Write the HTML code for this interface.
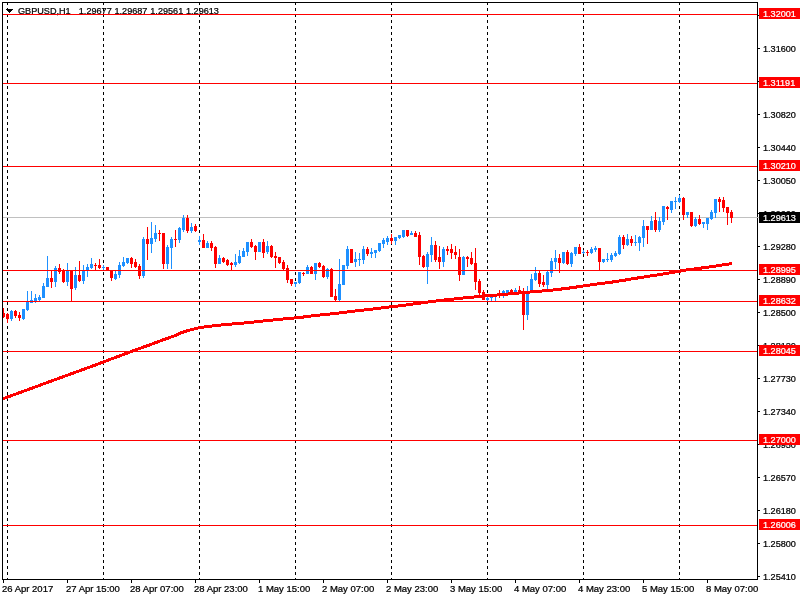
<!DOCTYPE html>
<html><head><meta charset="utf-8"><title>GBPUSD,H1</title>
<style>html,body{margin:0;padding:0;background:#fff;}body{width:800px;height:600px;overflow:hidden;}svg{display:block;}text{font-family:"Liberation Sans",sans-serif;font-size:9.7px;}</style></head><body>
<svg width="800" height="600" viewBox="0 0 800 600">
<rect x="0" y="0" width="800" height="600" fill="#ffffff"/>
<g shape-rendering="crispEdges">
<line x1="7.5" y1="2" x2="7.5" y2="579" stroke="#000" stroke-width="1" stroke-dasharray="3 3"/>
<line x1="103.5" y1="2" x2="103.5" y2="579" stroke="#000" stroke-width="1" stroke-dasharray="3 3"/>
<line x1="199.5" y1="2" x2="199.5" y2="579" stroke="#000" stroke-width="1" stroke-dasharray="3 3"/>
<line x1="295.5" y1="2" x2="295.5" y2="579" stroke="#000" stroke-width="1" stroke-dasharray="3 3"/>
<line x1="391.5" y1="2" x2="391.5" y2="579" stroke="#000" stroke-width="1" stroke-dasharray="3 3"/>
<line x1="487.5" y1="2" x2="487.5" y2="579" stroke="#000" stroke-width="1" stroke-dasharray="3 3"/>
<line x1="583.5" y1="2" x2="583.5" y2="579" stroke="#000" stroke-width="1" stroke-dasharray="3 3"/>
<line x1="679.5" y1="2" x2="679.5" y2="579" stroke="#000" stroke-width="1" stroke-dasharray="3 3"/>
<rect x="3" y="217" width="754" height="1" fill="#c0c0c0"/>
<rect x="3" y="308" width="1" height="10" fill="#ff0000"/><rect x="2" y="313" width="3" height="4" fill="#ff0000"/>
<rect x="7" y="313" width="1" height="10" fill="#ff0000"/><rect x="6" y="314" width="3" height="5" fill="#ff0000"/>
<rect x="11" y="310" width="1" height="11" fill="#1e90ff"/><rect x="10" y="311" width="3" height="8" fill="#1e90ff"/>
<rect x="15" y="310" width="1" height="8" fill="#ff0000"/><rect x="14" y="311" width="3" height="5" fill="#ff0000"/>
<rect x="19" y="312" width="1" height="9" fill="#ff0000"/><rect x="18" y="315" width="3" height="3" fill="#ff0000"/>
<rect x="23" y="309" width="1" height="11" fill="#1e90ff"/><rect x="22" y="309" width="3" height="10" fill="#1e90ff"/>
<rect x="27" y="291" width="1" height="20" fill="#1e90ff"/><rect x="26" y="302" width="3" height="8" fill="#1e90ff"/>
<rect x="31" y="291" width="1" height="12" fill="#1e90ff"/><rect x="30" y="300" width="3" height="3" fill="#1e90ff"/>
<rect x="35" y="294" width="1" height="9" fill="#1e90ff"/><rect x="34" y="298" width="3" height="4" fill="#1e90ff"/>
<rect x="39" y="295" width="1" height="6" fill="#1e90ff"/><rect x="38" y="297" width="3" height="3" fill="#1e90ff"/>
<rect x="43" y="283" width="1" height="15" fill="#1e90ff"/><rect x="42" y="286" width="3" height="12" fill="#1e90ff"/>
<rect x="47" y="256" width="1" height="31" fill="#1e90ff"/><rect x="46" y="278" width="3" height="9" fill="#1e90ff"/>
<rect x="51" y="270" width="1" height="18" fill="#ff0000"/><rect x="50" y="278" width="3" height="4" fill="#ff0000"/>
<rect x="55" y="266" width="1" height="21" fill="#1e90ff"/><rect x="54" y="268" width="3" height="14" fill="#1e90ff"/>
<rect x="59" y="264" width="1" height="10" fill="#ff0000"/><rect x="58" y="268" width="3" height="4" fill="#ff0000"/>
<rect x="63" y="269" width="1" height="14" fill="#ff0000"/><rect x="62" y="270" width="3" height="12" fill="#ff0000"/>
<rect x="67" y="263" width="1" height="23" fill="#1e90ff"/><rect x="66" y="271" width="3" height="11" fill="#1e90ff"/>
<rect x="71" y="271" width="1" height="31" fill="#ff0000"/><rect x="70" y="271" width="3" height="18" fill="#ff0000"/>
<rect x="75" y="267" width="1" height="23" fill="#1e90ff"/><rect x="74" y="275" width="3" height="13" fill="#1e90ff"/>
<rect x="79" y="261" width="1" height="21" fill="#ff0000"/><rect x="78" y="275" width="3" height="6" fill="#ff0000"/>
<rect x="83" y="265" width="1" height="19" fill="#1e90ff"/><rect x="82" y="270" width="3" height="11" fill="#1e90ff"/>
<rect x="87" y="264" width="1" height="13" fill="#1e90ff"/><rect x="86" y="267" width="3" height="4" fill="#1e90ff"/>
<rect x="91" y="258" width="1" height="11" fill="#1e90ff"/><rect x="90" y="264" width="3" height="4" fill="#1e90ff"/>
<rect x="95" y="263" width="1" height="8" fill="#ff0000"/><rect x="94" y="265" width="3" height="1" fill="#ff0000"/>
<rect x="99" y="259" width="1" height="10" fill="#ff0000"/><rect x="98" y="265" width="3" height="3" fill="#ff0000"/>
<rect x="103" y="265" width="1" height="5" fill="#1e90ff"/><rect x="102" y="267" width="3" height="1" fill="#1e90ff"/>
<rect x="107" y="267" width="1" height="4" fill="#ff0000"/><rect x="106" y="267" width="3" height="4" fill="#ff0000"/>
<rect x="111" y="270" width="1" height="11" fill="#ff0000"/><rect x="110" y="271" width="3" height="7" fill="#ff0000"/>
<rect x="115" y="271" width="1" height="9" fill="#1e90ff"/><rect x="114" y="274" width="3" height="5" fill="#1e90ff"/>
<rect x="119" y="262" width="1" height="16" fill="#1e90ff"/><rect x="118" y="265" width="3" height="10" fill="#1e90ff"/>
<rect x="123" y="257" width="1" height="10" fill="#1e90ff"/><rect x="122" y="262" width="3" height="4" fill="#1e90ff"/>
<rect x="127" y="258" width="1" height="6" fill="#1e90ff"/><rect x="126" y="258" width="3" height="5" fill="#1e90ff"/>
<rect x="131" y="257" width="1" height="11" fill="#ff0000"/><rect x="130" y="258" width="3" height="6" fill="#ff0000"/>
<rect x="135" y="259" width="1" height="9" fill="#ff0000"/><rect x="134" y="262" width="3" height="5" fill="#ff0000"/>
<rect x="139" y="264" width="1" height="15" fill="#ff0000"/><rect x="138" y="266" width="3" height="10" fill="#ff0000"/>
<rect x="143" y="237" width="1" height="41" fill="#1e90ff"/><rect x="142" y="239" width="3" height="37" fill="#1e90ff"/>
<rect x="147" y="227" width="1" height="33" fill="#ff0000"/><rect x="146" y="239" width="3" height="5" fill="#ff0000"/>
<rect x="151" y="222" width="1" height="31" fill="#1e90ff"/><rect x="150" y="238" width="3" height="6" fill="#1e90ff"/>
<rect x="155" y="225" width="1" height="17" fill="#1e90ff"/><rect x="154" y="233" width="3" height="6" fill="#1e90ff"/>
<rect x="159" y="230" width="1" height="11" fill="#ff0000"/><rect x="158" y="233" width="3" height="1" fill="#ff0000"/>
<rect x="163" y="233" width="1" height="36" fill="#ff0000"/><rect x="162" y="233" width="3" height="31" fill="#ff0000"/>
<rect x="167" y="245" width="1" height="24" fill="#1e90ff"/><rect x="166" y="247" width="3" height="17" fill="#1e90ff"/>
<rect x="171" y="237" width="1" height="32" fill="#1e90ff"/><rect x="170" y="239" width="3" height="9" fill="#1e90ff"/>
<rect x="175" y="230" width="1" height="17" fill="#ff0000"/><rect x="174" y="239" width="3" height="1" fill="#ff0000"/>
<rect x="179" y="227" width="1" height="16" fill="#1e90ff"/><rect x="178" y="228" width="3" height="12" fill="#1e90ff"/>
<rect x="183" y="215" width="1" height="17" fill="#1e90ff"/><rect x="182" y="218" width="3" height="12" fill="#1e90ff"/>
<rect x="187" y="215" width="1" height="18" fill="#ff0000"/><rect x="186" y="218" width="3" height="13" fill="#ff0000"/>
<rect x="191" y="223" width="1" height="10" fill="#1e90ff"/><rect x="190" y="227" width="3" height="4" fill="#1e90ff"/>
<rect x="195" y="224" width="1" height="8" fill="#ff0000"/><rect x="194" y="226" width="3" height="5" fill="#ff0000"/>
<rect x="199" y="236" width="1" height="9" fill="#1e90ff"/><rect x="198" y="240" width="3" height="2" fill="#1e90ff"/>
<rect x="203" y="234" width="1" height="14" fill="#ff0000"/><rect x="202" y="240" width="3" height="8" fill="#ff0000"/>
<rect x="207" y="241" width="1" height="7" fill="#1e90ff"/><rect x="206" y="243" width="3" height="5" fill="#1e90ff"/>
<rect x="211" y="241" width="1" height="10" fill="#ff0000"/><rect x="210" y="243" width="3" height="5" fill="#ff0000"/>
<rect x="215" y="246" width="1" height="22" fill="#ff0000"/><rect x="214" y="247" width="3" height="17" fill="#ff0000"/>
<rect x="219" y="255" width="1" height="9" fill="#1e90ff"/><rect x="218" y="258" width="3" height="6" fill="#1e90ff"/>
<rect x="223" y="257" width="1" height="6" fill="#ff0000"/><rect x="222" y="258" width="3" height="4" fill="#ff0000"/>
<rect x="227" y="259" width="1" height="7" fill="#ff0000"/><rect x="226" y="260" width="3" height="5" fill="#ff0000"/>
<rect x="231" y="262" width="1" height="9" fill="#ff0000"/><rect x="230" y="263" width="3" height="2" fill="#ff0000"/>
<rect x="235" y="254" width="1" height="13" fill="#1e90ff"/><rect x="234" y="262" width="3" height="3" fill="#1e90ff"/>
<rect x="239" y="250" width="1" height="14" fill="#1e90ff"/><rect x="238" y="256" width="3" height="7" fill="#1e90ff"/>
<rect x="243" y="248" width="1" height="9" fill="#1e90ff"/><rect x="242" y="251" width="3" height="6" fill="#1e90ff"/>
<rect x="247" y="242" width="1" height="14" fill="#1e90ff"/><rect x="246" y="242" width="3" height="10" fill="#1e90ff"/>
<rect x="251" y="239" width="1" height="9" fill="#ff0000"/><rect x="250" y="242" width="3" height="5" fill="#ff0000"/>
<rect x="255" y="245" width="1" height="15" fill="#ff0000"/><rect x="254" y="246" width="3" height="6" fill="#ff0000"/>
<rect x="259" y="242" width="1" height="10" fill="#1e90ff"/><rect x="258" y="242" width="3" height="10" fill="#1e90ff"/>
<rect x="263" y="239" width="1" height="19" fill="#ff0000"/><rect x="262" y="242" width="3" height="11" fill="#ff0000"/>
<rect x="267" y="241" width="1" height="13" fill="#1e90ff"/><rect x="266" y="246" width="3" height="6" fill="#1e90ff"/>
<rect x="271" y="245" width="1" height="13" fill="#ff0000"/><rect x="270" y="246" width="3" height="11" fill="#ff0000"/>
<rect x="275" y="252" width="1" height="16" fill="#ff0000"/><rect x="274" y="256" width="3" height="2" fill="#ff0000"/>
<rect x="279" y="257" width="1" height="7" fill="#ff0000"/><rect x="278" y="257" width="3" height="6" fill="#ff0000"/>
<rect x="283" y="260" width="1" height="11" fill="#ff0000"/><rect x="282" y="262" width="3" height="7" fill="#ff0000"/>
<rect x="287" y="265" width="1" height="18" fill="#ff0000"/><rect x="286" y="268" width="3" height="12" fill="#ff0000"/>
<rect x="291" y="279" width="1" height="7" fill="#ff0000"/><rect x="290" y="279" width="3" height="5" fill="#ff0000"/>
<rect x="295" y="282" width="1" height="5" fill="#1e90ff"/><rect x="294" y="282" width="3" height="2" fill="#1e90ff"/>
<rect x="299" y="272" width="1" height="12" fill="#1e90ff"/><rect x="298" y="272" width="3" height="11" fill="#1e90ff"/>
<rect x="303" y="272" width="1" height="4" fill="#ff0000"/><rect x="302" y="273" width="3" height="1" fill="#ff0000"/>
<rect x="307" y="265" width="1" height="9" fill="#1e90ff"/><rect x="306" y="267" width="3" height="7" fill="#1e90ff"/>
<rect x="311" y="266" width="1" height="8" fill="#ff0000"/><rect x="310" y="267" width="3" height="7" fill="#ff0000"/>
<rect x="315" y="263" width="1" height="17" fill="#1e90ff"/><rect x="314" y="263" width="3" height="11" fill="#1e90ff"/>
<rect x="319" y="262" width="1" height="6" fill="#ff0000"/><rect x="318" y="263" width="3" height="4" fill="#ff0000"/>
<rect x="323" y="265" width="1" height="13" fill="#ff0000"/><rect x="322" y="266" width="3" height="11" fill="#ff0000"/>
<rect x="327" y="268" width="1" height="11" fill="#1e90ff"/><rect x="326" y="269" width="3" height="8" fill="#1e90ff"/>
<rect x="331" y="268" width="1" height="29" fill="#ff0000"/><rect x="330" y="269" width="3" height="28" fill="#ff0000"/>
<rect x="335" y="289" width="1" height="13" fill="#ff0000"/><rect x="334" y="296" width="3" height="4" fill="#ff0000"/>
<rect x="339" y="259" width="1" height="42" fill="#1e90ff"/><rect x="338" y="284" width="3" height="16" fill="#1e90ff"/>
<rect x="343" y="265" width="1" height="20" fill="#1e90ff"/><rect x="342" y="265" width="3" height="20" fill="#1e90ff"/>
<rect x="347" y="246" width="1" height="23" fill="#1e90ff"/><rect x="346" y="249" width="3" height="17" fill="#1e90ff"/>
<rect x="351" y="249" width="1" height="14" fill="#ff0000"/><rect x="350" y="249" width="3" height="14" fill="#ff0000"/>
<rect x="355" y="252" width="1" height="15" fill="#1e90ff"/><rect x="354" y="259" width="3" height="3" fill="#1e90ff"/>
<rect x="359" y="253" width="1" height="13" fill="#1e90ff"/><rect x="358" y="259" width="3" height="1" fill="#1e90ff"/>
<rect x="363" y="246" width="1" height="18" fill="#1e90ff"/><rect x="362" y="249" width="3" height="11" fill="#1e90ff"/>
<rect x="367" y="247" width="1" height="9" fill="#ff0000"/><rect x="366" y="249" width="3" height="5" fill="#ff0000"/>
<rect x="371" y="248" width="1" height="10" fill="#1e90ff"/><rect x="370" y="252" width="3" height="2" fill="#1e90ff"/>
<rect x="375" y="250" width="1" height="8" fill="#1e90ff"/><rect x="374" y="250" width="3" height="3" fill="#1e90ff"/>
<rect x="379" y="243" width="1" height="9" fill="#1e90ff"/><rect x="378" y="243" width="3" height="8" fill="#1e90ff"/>
<rect x="383" y="238" width="1" height="10" fill="#1e90ff"/><rect x="382" y="240" width="3" height="4" fill="#1e90ff"/>
<rect x="387" y="236" width="1" height="9" fill="#1e90ff"/><rect x="386" y="238" width="3" height="4" fill="#1e90ff"/>
<rect x="391" y="234" width="1" height="10" fill="#ff0000"/><rect x="390" y="238" width="3" height="3" fill="#ff0000"/>
<rect x="395" y="237" width="1" height="8" fill="#1e90ff"/><rect x="394" y="237" width="3" height="4" fill="#1e90ff"/>
<rect x="399" y="235" width="1" height="4" fill="#1e90ff"/><rect x="398" y="235" width="3" height="3" fill="#1e90ff"/>
<rect x="403" y="230" width="1" height="8" fill="#1e90ff"/><rect x="402" y="230" width="3" height="7" fill="#1e90ff"/>
<rect x="407" y="230" width="1" height="7" fill="#ff0000"/><rect x="406" y="230" width="3" height="6" fill="#ff0000"/>
<rect x="411" y="231" width="1" height="4" fill="#1e90ff"/><rect x="410" y="233" width="3" height="2" fill="#1e90ff"/>
<rect x="415" y="231" width="1" height="6" fill="#ff0000"/><rect x="414" y="233" width="3" height="4" fill="#ff0000"/>
<rect x="419" y="232" width="1" height="33" fill="#ff0000"/><rect x="418" y="235" width="3" height="22" fill="#ff0000"/>
<rect x="423" y="255" width="1" height="13" fill="#ff0000"/><rect x="422" y="256" width="3" height="11" fill="#ff0000"/>
<rect x="427" y="252" width="1" height="32" fill="#1e90ff"/><rect x="426" y="254" width="3" height="13" fill="#1e90ff"/>
<rect x="431" y="237" width="1" height="25" fill="#1e90ff"/><rect x="430" y="245" width="3" height="10" fill="#1e90ff"/>
<rect x="435" y="241" width="1" height="21" fill="#ff0000"/><rect x="434" y="245" width="3" height="15" fill="#ff0000"/>
<rect x="439" y="246" width="1" height="23" fill="#ff0000"/><rect x="438" y="257" width="3" height="5" fill="#ff0000"/>
<rect x="443" y="247" width="1" height="20" fill="#1e90ff"/><rect x="442" y="249" width="3" height="13" fill="#1e90ff"/>
<rect x="447" y="246" width="1" height="9" fill="#ff0000"/><rect x="446" y="249" width="3" height="2" fill="#ff0000"/>
<rect x="451" y="244" width="1" height="15" fill="#ff0000"/><rect x="450" y="249" width="3" height="4" fill="#ff0000"/>
<rect x="455" y="246" width="1" height="13" fill="#ff0000"/><rect x="454" y="252" width="3" height="3" fill="#ff0000"/>
<rect x="459" y="249" width="1" height="32" fill="#ff0000"/><rect x="458" y="257" width="3" height="18" fill="#ff0000"/>
<rect x="463" y="256" width="1" height="19" fill="#1e90ff"/><rect x="462" y="257" width="3" height="18" fill="#1e90ff"/>
<rect x="467" y="256" width="1" height="11" fill="#ff0000"/><rect x="466" y="257" width="3" height="2" fill="#ff0000"/>
<rect x="471" y="252" width="1" height="13" fill="#ff0000"/><rect x="470" y="258" width="3" height="6" fill="#ff0000"/>
<rect x="475" y="248" width="1" height="42" fill="#ff0000"/><rect x="474" y="263" width="3" height="19" fill="#ff0000"/>
<rect x="479" y="279" width="1" height="17" fill="#ff0000"/><rect x="478" y="281" width="3" height="12" fill="#ff0000"/>
<rect x="483" y="290" width="1" height="10" fill="#ff0000"/><rect x="482" y="292" width="3" height="8" fill="#ff0000"/>
<rect x="487" y="296" width="1" height="5" fill="#1e90ff"/><rect x="486" y="298" width="3" height="2" fill="#1e90ff"/>
<rect x="491" y="296" width="1" height="5" fill="#1e90ff"/><rect x="490" y="297" width="3" height="1" fill="#1e90ff"/>
<rect x="495" y="295" width="1" height="6" fill="#1e90ff"/><rect x="494" y="296" width="3" height="1" fill="#1e90ff"/>
<rect x="499" y="290" width="1" height="8" fill="#ff0000"/><rect x="498" y="293" width="3" height="2" fill="#ff0000"/>
<rect x="503" y="290" width="1" height="8" fill="#1e90ff"/><rect x="502" y="291" width="3" height="4" fill="#1e90ff"/>
<rect x="507" y="290" width="1" height="5" fill="#1e90ff"/><rect x="506" y="290" width="3" height="4" fill="#1e90ff"/>
<rect x="511" y="289" width="1" height="5" fill="#ff0000"/><rect x="510" y="290" width="3" height="4" fill="#ff0000"/>
<rect x="515" y="288" width="1" height="6" fill="#1e90ff"/><rect x="514" y="290" width="3" height="3" fill="#1e90ff"/>
<rect x="519" y="286" width="1" height="8" fill="#ff0000"/><rect x="518" y="290" width="3" height="4" fill="#ff0000"/>
<rect x="523" y="288" width="1" height="42" fill="#ff0000"/><rect x="522" y="292" width="3" height="23" fill="#ff0000"/>
<rect x="527" y="286" width="1" height="34" fill="#1e90ff"/><rect x="526" y="294" width="3" height="21" fill="#1e90ff"/>
<rect x="531" y="274" width="1" height="18" fill="#1e90ff"/><rect x="530" y="279" width="3" height="13" fill="#1e90ff"/>
<rect x="535" y="267" width="1" height="14" fill="#1e90ff"/><rect x="534" y="273" width="3" height="7" fill="#1e90ff"/>
<rect x="539" y="271" width="1" height="16" fill="#ff0000"/><rect x="538" y="273" width="3" height="11" fill="#ff0000"/>
<rect x="543" y="275" width="1" height="12" fill="#ff0000"/><rect x="542" y="282" width="3" height="3" fill="#ff0000"/>
<rect x="547" y="271" width="1" height="18" fill="#1e90ff"/><rect x="546" y="272" width="3" height="13" fill="#1e90ff"/>
<rect x="551" y="258" width="1" height="19" fill="#1e90ff"/><rect x="550" y="261" width="3" height="12" fill="#1e90ff"/>
<rect x="555" y="250" width="1" height="19" fill="#1e90ff"/><rect x="554" y="258" width="3" height="4" fill="#1e90ff"/>
<rect x="559" y="254" width="1" height="19" fill="#ff0000"/><rect x="558" y="258" width="3" height="5" fill="#ff0000"/>
<rect x="563" y="252" width="1" height="12" fill="#1e90ff"/><rect x="562" y="252" width="3" height="11" fill="#1e90ff"/>
<rect x="567" y="250" width="1" height="15" fill="#ff0000"/><rect x="566" y="252" width="3" height="12" fill="#ff0000"/>
<rect x="571" y="252" width="1" height="15" fill="#1e90ff"/><rect x="570" y="253" width="3" height="11" fill="#1e90ff"/>
<rect x="575" y="247" width="1" height="9" fill="#1e90ff"/><rect x="574" y="247" width="3" height="7" fill="#1e90ff"/>
<rect x="579" y="244" width="1" height="10" fill="#ff0000"/><rect x="578" y="247" width="3" height="7" fill="#ff0000"/>
<rect x="583" y="250" width="1" height="4" fill="#1e90ff"/><rect x="582" y="252" width="3" height="1" fill="#1e90ff"/>
<rect x="587" y="250" width="1" height="6" fill="#ff0000"/><rect x="586" y="252" width="3" height="1" fill="#ff0000"/>
<rect x="591" y="247" width="1" height="7" fill="#1e90ff"/><rect x="590" y="249" width="3" height="4" fill="#1e90ff"/>
<rect x="595" y="246" width="1" height="6" fill="#1e90ff"/><rect x="594" y="248" width="3" height="2" fill="#1e90ff"/>
<rect x="599" y="248" width="1" height="23" fill="#ff0000"/><rect x="598" y="248" width="3" height="14" fill="#ff0000"/>
<rect x="603" y="259" width="1" height="4" fill="#1e90ff"/><rect x="602" y="259" width="3" height="3" fill="#1e90ff"/>
<rect x="607" y="253" width="1" height="9" fill="#1e90ff"/><rect x="606" y="259" width="3" height="1" fill="#1e90ff"/>
<rect x="611" y="253" width="1" height="9" fill="#1e90ff"/><rect x="610" y="255" width="3" height="5" fill="#1e90ff"/>
<rect x="615" y="251" width="1" height="6" fill="#1e90ff"/><rect x="614" y="253" width="3" height="3" fill="#1e90ff"/>
<rect x="619" y="235" width="1" height="20" fill="#1e90ff"/><rect x="618" y="237" width="3" height="17" fill="#1e90ff"/>
<rect x="623" y="235" width="1" height="14" fill="#ff0000"/><rect x="622" y="237" width="3" height="8" fill="#ff0000"/>
<rect x="627" y="234" width="1" height="12" fill="#1e90ff"/><rect x="626" y="239" width="3" height="6" fill="#1e90ff"/>
<rect x="631" y="236" width="1" height="10" fill="#ff0000"/><rect x="630" y="239" width="3" height="4" fill="#ff0000"/>
<rect x="635" y="235" width="1" height="11" fill="#1e90ff"/><rect x="634" y="242" width="3" height="1" fill="#1e90ff"/>
<rect x="639" y="236" width="1" height="15" fill="#1e90ff"/><rect x="638" y="237" width="3" height="6" fill="#1e90ff"/>
<rect x="643" y="220" width="1" height="27" fill="#1e90ff"/><rect x="642" y="226" width="3" height="12" fill="#1e90ff"/>
<rect x="647" y="226" width="1" height="18" fill="#ff0000"/><rect x="646" y="226" width="3" height="4" fill="#ff0000"/>
<rect x="651" y="216" width="1" height="14" fill="#1e90ff"/><rect x="650" y="221" width="3" height="9" fill="#1e90ff"/>
<rect x="655" y="212" width="1" height="20" fill="#ff0000"/><rect x="654" y="220" width="3" height="10" fill="#ff0000"/>
<rect x="659" y="217" width="1" height="15" fill="#1e90ff"/><rect x="658" y="221" width="3" height="9" fill="#1e90ff"/>
<rect x="663" y="206" width="1" height="19" fill="#1e90ff"/><rect x="662" y="206" width="3" height="16" fill="#1e90ff"/>
<rect x="667" y="206" width="1" height="14" fill="#ff0000"/><rect x="666" y="207" width="3" height="2" fill="#ff0000"/>
<rect x="671" y="201" width="1" height="12" fill="#1e90ff"/><rect x="670" y="201" width="3" height="9" fill="#1e90ff"/>
<rect x="675" y="197" width="1" height="12" fill="#1e90ff"/><rect x="674" y="201" width="3" height="1" fill="#1e90ff"/>
<rect x="679" y="195" width="1" height="8" fill="#1e90ff"/><rect x="678" y="198" width="3" height="4" fill="#1e90ff"/>
<rect x="683" y="197" width="1" height="23" fill="#ff0000"/><rect x="682" y="198" width="3" height="17" fill="#ff0000"/>
<rect x="687" y="212" width="1" height="6" fill="#1e90ff"/><rect x="686" y="212" width="3" height="3" fill="#1e90ff"/>
<rect x="691" y="212" width="1" height="15" fill="#ff0000"/><rect x="690" y="212" width="3" height="14" fill="#ff0000"/>
<rect x="695" y="217" width="1" height="10" fill="#1e90ff"/><rect x="694" y="219" width="3" height="7" fill="#1e90ff"/>
<rect x="699" y="215" width="1" height="10" fill="#ff0000"/><rect x="698" y="219" width="3" height="5" fill="#ff0000"/>
<rect x="703" y="222" width="1" height="6" fill="#1e90ff"/><rect x="702" y="222" width="3" height="2" fill="#1e90ff"/>
<rect x="707" y="218" width="1" height="12" fill="#1e90ff"/><rect x="706" y="218" width="3" height="6" fill="#1e90ff"/>
<rect x="711" y="210" width="1" height="10" fill="#1e90ff"/><rect x="710" y="212" width="3" height="7" fill="#1e90ff"/>
<rect x="715" y="199" width="1" height="19" fill="#1e90ff"/><rect x="714" y="199" width="3" height="14" fill="#1e90ff"/>
<rect x="719" y="197" width="1" height="15" fill="#ff0000"/><rect x="718" y="199" width="3" height="3" fill="#ff0000"/>
<rect x="723" y="197" width="1" height="15" fill="#ff0000"/><rect x="722" y="200" width="3" height="8" fill="#ff0000"/>
<rect x="727" y="207" width="1" height="18" fill="#ff0000"/><rect x="726" y="207" width="3" height="6" fill="#ff0000"/>
<rect x="731" y="210" width="1" height="13" fill="#ff0000"/><rect x="730" y="212" width="3" height="6" fill="#ff0000"/>
</g>
<polyline points="3,398.7 100,363.3 112.5,358.5 125,353.9 137.5,349.2 150,344.75 162.5,340.1 175,335.6 181.25,332.8 187.5,330.6 200,327.6 212.5,325.9 225,324.6 237.5,323.5 250,322.5 262.5,321.1 275,319.8 287.5,318.6 300,317.5 312.5,315.8 325,314.5 337.5,313.2 350,311.6 362.5,310.2 375,308.8 387.5,307.2 400,305.8 412.5,304.1 425,302.4 437.5,300.8 450,299.4 462.5,298.1 475,296.9 487.5,295.8 500,294.8 517.5,293.1 530,292.05 542.5,291.0 555,289.8 567.5,288.3 580,286.5 597.5,283.9 610,282.4 622.5,280.5 635,278.4 647.5,276.4 660,274.6 675,272 687.5,269.8 700,268.2 712.5,266.5 725,264.6 732,263.6" fill="none" stroke="#ff0000" stroke-width="3" stroke-linejoin="round" stroke-linecap="butt" shape-rendering="crispEdges"/>
<g shape-rendering="crispEdges"><rect x="6" y="9" width="7" height="1"/><rect x="7" y="10" width="5" height="1"/><rect x="8" y="11" width="3" height="1"/><rect x="9" y="12" width="1" height="1"/></g>
<text transform="translate(18 14) scale(0.94 1)" fill="#000" stroke="#000" stroke-width="0.25">GBPUSD,H1</text>
<text transform="translate(78.8 14) scale(0.94 1)" fill="#000" stroke="#000" stroke-width="0.25">1.29677</text>
<text transform="translate(114.5 14) scale(0.94 1)" fill="#000" stroke="#000" stroke-width="0.25">1.29687</text>
<text transform="translate(150.3 14) scale(0.94 1)" fill="#000" stroke="#000" stroke-width="0.25">1.29561</text>
<text transform="translate(186 14) scale(0.94 1)" fill="#000" stroke="#000" stroke-width="0.25">1.29613</text>
<g shape-rendering="crispEdges">
<rect x="3" y="14" width="755" height="1" fill="#ff0000"/>
<rect x="3" y="83" width="755" height="1" fill="#ff0000"/>
<rect x="3" y="166" width="755" height="1" fill="#ff0000"/>
<rect x="3" y="270" width="755" height="1" fill="#ff0000"/>
<rect x="3" y="301" width="755" height="1" fill="#ff0000"/>
<rect x="3" y="351" width="755" height="1" fill="#ff0000"/>
<rect x="3" y="440" width="755" height="1" fill="#ff0000"/>
<rect x="3" y="525" width="755" height="1" fill="#ff0000"/>
<rect x="2" y="2" width="756" height="1" fill="#000"/>
<rect x="2" y="579" width="756" height="1" fill="#000"/>
<rect x="2" y="2" width="1" height="578" fill="#000"/>
<rect x="757" y="2" width="1" height="578" fill="#000"/>
<rect x="757" y="217" width="2" height="1" fill="#c0c0c0"/>
<rect x="758" y="15" width="2" height="1" fill="#000"/>
<rect x="758" y="48" width="2" height="1" fill="#000"/>
<rect x="758" y="81" width="2" height="1" fill="#000"/>
<rect x="758" y="114" width="2" height="1" fill="#000"/>
<rect x="758" y="147" width="2" height="1" fill="#000"/>
<rect x="758" y="180" width="2" height="1" fill="#000"/>
<rect x="758" y="213" width="2" height="1" fill="#000"/>
<rect x="758" y="246" width="2" height="1" fill="#000"/>
<rect x="758" y="279" width="2" height="1" fill="#000"/>
<rect x="758" y="312" width="2" height="1" fill="#000"/>
<rect x="758" y="345" width="2" height="1" fill="#000"/>
<rect x="758" y="378" width="2" height="1" fill="#000"/>
<rect x="758" y="411" width="2" height="1" fill="#000"/>
<rect x="758" y="444" width="2" height="1" fill="#000"/>
<rect x="758" y="477" width="2" height="1" fill="#000"/>
<rect x="758" y="510" width="2" height="1" fill="#000"/>
<rect x="758" y="543" width="2" height="1" fill="#000"/>
<rect x="758" y="576" width="2" height="1" fill="#000"/>
<rect x="3" y="580" width="1" height="3" fill="#000"/>
<rect x="67" y="580" width="1" height="3" fill="#000"/>
<rect x="131" y="580" width="1" height="3" fill="#000"/>
<rect x="195" y="580" width="1" height="3" fill="#000"/>
<rect x="259" y="580" width="1" height="3" fill="#000"/>
<rect x="323" y="580" width="1" height="3" fill="#000"/>
<rect x="387" y="580" width="1" height="3" fill="#000"/>
<rect x="451" y="580" width="1" height="3" fill="#000"/>
<rect x="515" y="580" width="1" height="3" fill="#000"/>
<rect x="579" y="580" width="1" height="3" fill="#000"/>
<rect x="643" y="580" width="1" height="3" fill="#000"/>
<rect x="707" y="580" width="1" height="3" fill="#000"/>
</g>
<text transform="translate(763 19) scale(0.94 1)" fill="#000" stroke="#000" stroke-width="0.25">1.31990</text>
<text transform="translate(763 52) scale(0.94 1)" fill="#000" stroke="#000" stroke-width="0.25">1.31600</text>
<text transform="translate(763 85) scale(0.94 1)" fill="#000" stroke="#000" stroke-width="0.25">1.31210</text>
<text transform="translate(763 118) scale(0.94 1)" fill="#000" stroke="#000" stroke-width="0.25">1.30820</text>
<text transform="translate(763 151) scale(0.94 1)" fill="#000" stroke="#000" stroke-width="0.25">1.30440</text>
<text transform="translate(763 184) scale(0.94 1)" fill="#000" stroke="#000" stroke-width="0.25">1.30050</text>
<text transform="translate(763 217) scale(0.94 1)" fill="#000" stroke="#000" stroke-width="0.25">1.29660</text>
<text transform="translate(763 250) scale(0.94 1)" fill="#000" stroke="#000" stroke-width="0.25">1.29280</text>
<text transform="translate(763 283) scale(0.94 1)" fill="#000" stroke="#000" stroke-width="0.25">1.28890</text>
<text transform="translate(763 316) scale(0.94 1)" fill="#000" stroke="#000" stroke-width="0.25">1.28500</text>
<text transform="translate(763 349) scale(0.94 1)" fill="#000" stroke="#000" stroke-width="0.25">1.28120</text>
<text transform="translate(763 382) scale(0.94 1)" fill="#000" stroke="#000" stroke-width="0.25">1.27730</text>
<text transform="translate(763 415) scale(0.94 1)" fill="#000" stroke="#000" stroke-width="0.25">1.27340</text>
<text transform="translate(763 448) scale(0.94 1)" fill="#000" stroke="#000" stroke-width="0.25">1.26950</text>
<text transform="translate(763 481) scale(0.94 1)" fill="#000" stroke="#000" stroke-width="0.25">1.26570</text>
<text transform="translate(763 514) scale(0.94 1)" fill="#000" stroke="#000" stroke-width="0.25">1.26180</text>
<text transform="translate(763 547) scale(0.94 1)" fill="#000" stroke="#000" stroke-width="0.25">1.25800</text>
<text transform="translate(763 580) scale(0.94 1)" fill="#000" stroke="#000" stroke-width="0.25">1.25410</text>
<text transform="translate(2 592) scale(0.98 1)" fill="#000" stroke="#000" stroke-width="0.25">26 Apr 2017</text>
<text transform="translate(66 592) scale(0.98 1)" fill="#000" stroke="#000" stroke-width="0.25">27 Apr 15:00</text>
<text transform="translate(130 592) scale(0.98 1)" fill="#000" stroke="#000" stroke-width="0.25">28 Apr 07:00</text>
<text transform="translate(194 592) scale(0.98 1)" fill="#000" stroke="#000" stroke-width="0.25">28 Apr 23:00</text>
<text transform="translate(258 592) scale(0.98 1)" fill="#000" stroke="#000" stroke-width="0.25">1 May 15:00</text>
<text transform="translate(322 592) scale(0.98 1)" fill="#000" stroke="#000" stroke-width="0.25">2 May 07:00</text>
<text transform="translate(386 592) scale(0.98 1)" fill="#000" stroke="#000" stroke-width="0.25">2 May 23:00</text>
<text transform="translate(450 592) scale(0.98 1)" fill="#000" stroke="#000" stroke-width="0.25">3 May 15:00</text>
<text transform="translate(514 592) scale(0.98 1)" fill="#000" stroke="#000" stroke-width="0.25">4 May 07:00</text>
<text transform="translate(578 592) scale(0.98 1)" fill="#000" stroke="#000" stroke-width="0.25">4 May 23:00</text>
<text transform="translate(642 592) scale(0.98 1)" fill="#000" stroke="#000" stroke-width="0.25">5 May 15:00</text>
<text transform="translate(706 592) scale(0.98 1)" fill="#000" stroke="#000" stroke-width="0.25">8 May 07:00</text>
<g shape-rendering="crispEdges">
<rect x="759" y="8" width="41" height="11" fill="#ff0000"/>
<rect x="759" y="77" width="41" height="11" fill="#ff0000"/>
<rect x="759" y="160" width="41" height="11" fill="#ff0000"/>
<rect x="759" y="264" width="41" height="11" fill="#ff0000"/>
<rect x="759" y="295" width="41" height="11" fill="#ff0000"/>
<rect x="759" y="345" width="41" height="11" fill="#ff0000"/>
<rect x="759" y="434" width="41" height="11" fill="#ff0000"/>
<rect x="759" y="519" width="41" height="11" fill="#ff0000"/>
<rect x="759" y="212" width="41" height="11" fill="#000"/>
</g>
<text transform="translate(763 17) scale(0.94 1)" fill="#fff" stroke="#fff" stroke-width="0.25">1.32001</text>
<text transform="translate(763 86) scale(0.94 1)" fill="#fff" stroke="#fff" stroke-width="0.25">1.31191</text>
<text transform="translate(763 169) scale(0.94 1)" fill="#fff" stroke="#fff" stroke-width="0.25">1.30210</text>
<text transform="translate(763 273) scale(0.94 1)" fill="#fff" stroke="#fff" stroke-width="0.25">1.28995</text>
<text transform="translate(763 304) scale(0.94 1)" fill="#fff" stroke="#fff" stroke-width="0.25">1.28632</text>
<text transform="translate(763 354) scale(0.94 1)" fill="#fff" stroke="#fff" stroke-width="0.25">1.28045</text>
<text transform="translate(763 443) scale(0.94 1)" fill="#fff" stroke="#fff" stroke-width="0.25">1.27000</text>
<text transform="translate(763 528) scale(0.94 1)" fill="#fff" stroke="#fff" stroke-width="0.25">1.26006</text>
<text transform="translate(763 221) scale(0.94 1)" fill="#fff" stroke="#fff" stroke-width="0.25">1.29613</text>
</svg></body></html>
